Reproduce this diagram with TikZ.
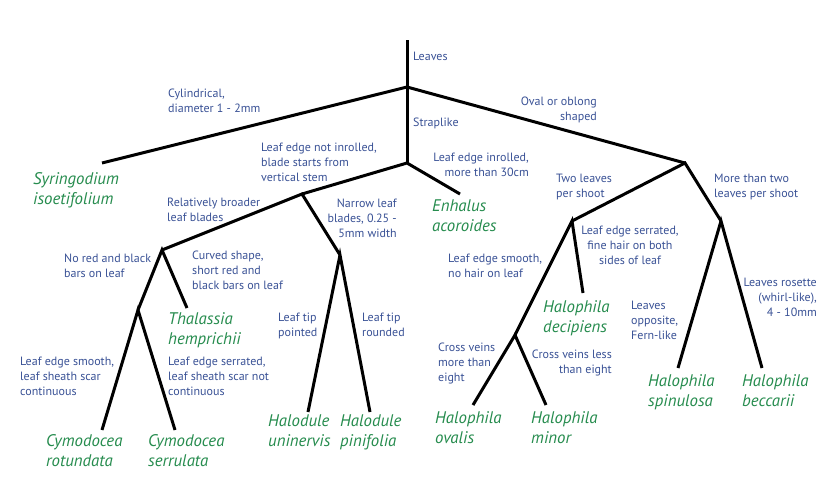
\documentclass[tikz,border=0pt]{standalone}
\usepackage{fontspec}
\setmainfont{PT Sans}
\definecolor{condblue}{RGB}{58,82,150}
\definecolor{taxgreen}{RGB}{38,140,78}
\begin{document}
\begin{tikzpicture}[x=1pt,y=-1pt,
		branch/.style={line width=3pt},
		cond/.style={text=condblue,font=\fontsize{12}{15}\selectfont,inner sep=0pt,align=left,anchor=north west},
		taxon/.style={text=taxgreen,font=\fontsize{16.8}{20}\selectfont\itshape,inner sep=0pt,align=left,anchor=north west}]
		\useasboundingbox (0,0) rectangle (840,496);
		\fill[white] (0,0) rectangle (840,496);
		
		% forks of the key
		\coordinate (top) at (407,40);
		\coordinate (leaves) at (407,87);
		\coordinate (strap) at (407,163);
		\coordinate (oval) at (685,163);
		\coordinate (notinr) at (302,194);
		\coordinate (broad) at (162,250);
		\coordinate (narrow) at (340,255);
		\coordinate (nored) at (138,310);
		\coordinate (two) at (572,221);
		\coordinate (more) at (721,221);
		\coordinate (smooth) at (515,335);
		
		% ends of the key
		\coordinate (syr) at (102,163);
		\coordinate (enh) at (460,194);
		\coordinate (tha) at (187,308);
		\coordinate (rot) at (102,430);
		\coordinate (ser) at (175,430);
		\coordinate (uni) at (308,412);
		\coordinate (pin) at (370,412);
		\coordinate (dec) at (583,293);
		\coordinate (ova) at (473,405);
		\coordinate (min) at (546,405);
		\coordinate (spi) at (678,368);
		\coordinate (bec) at (762,368);
		
		\draw[branch] (top) -- (leaves) -- (strap);
		\draw[branch] (syr) -- (leaves) -- (oval);
		\draw[branch] (enh) -- (strap) -- (notinr);
		\draw[branch] (broad) -- (notinr) -- (narrow);
		\draw[branch] (tha) -- (broad) -- (nored);
		\draw[branch] (rot) -- (nored) -- (ser);
		\draw[branch] (uni) -- (narrow) -- (pin);
		\draw[branch] (two) -- (oval) -- (more);
		\draw[branch] (dec) -- (two) -- (smooth);
		\draw[branch] (ova) -- (smooth) -- (min);
		\draw[branch] (spi) -- (more) -- (bec);
		
		% conditions
		\node[cond] (leavesl) at (413,52) {Leaves};
		\node[cond] (strapl) at (413,118) {Straplike};
		\node[cond] (cyll) at (168,89) {Cylindrical,\\diameter 1 - 2mm};
		\node[cond,anchor=north east,align=right] (ovall) at (597,97) {Oval or oblong\\shaped};
		\node[cond] (notinrl) at (261,143) {Leaf edge not inrolled,\\blade starts from\\vertical stem};
		\node[cond,anchor=north east,align=right] (inrl) at (529,153) {Leaf edge inrolled,\\more than 30cm};
		\node[cond] (broadl) at (167,198) {Relatively broader\\leaf blades};
		\node[cond,anchor=north east,align=right] (narrowl) at (397,199) {Narrow leaf\\blades, 0.25 -\\5mm width};
		\node[cond] (twol) at (556,174) {Two leaves\\per shoot};
		\node[cond] (morel) at (714,174) {More than two\\leaves per shoot};
		\node[cond,anchor=north,align=center] (serrl) at (630,226) {Leaf edge serrated,\\fine hair on both\\sides of leaf};
		\node[cond] (noredl) at (64,254) {No red and black\\bars on leaf};
		\node[cond] (curvedl) at (192,251) {Curved shape,\\short red and\\black bars on leaf};
		\node[cond] (pointedl) at (278,313) {Leaf tip\\pointed};
		\node[cond] (roundedl) at (362,313) {Leaf tip\\rounded};
		\node[cond] (smoothsl) at (20,357) {Leaf edge smooth,\\leaf sheath scar\\continuous};
		\node[cond] (serrsl) at (168,357) {Leaf edge serrated,\\leaf sheath scar not\\continuous};
		\node[cond] (nohairl) at (448,254) {Leaf edge smooth,\\no hair on leaf};
		\node[cond,anchor=north east,align=right] (rosettel) at (817,278) {Leaves rosette\\(whirl-like),\\4 - 10mm};
		\node[cond] (oppl) at (631,301) {Leaves\\opposite,\\Fern-like};
		\node[cond] (moreveinl) at (438,343) {Cross veins\\more than\\eight};
		\node[cond,anchor=north east,align=right] (lessveinl) at (612,350) {Cross veins less\\than eight};
		
		% species
		\node[taxon] (syrl) at (33,172) {Syringodium\\isoetifolium};
		\node[taxon] (enhl) at (432,200) {Enhalus\\acoroides};
		\node[taxon] (thal) at (168,312) {Thalassia\\hemprichii};
		\node[taxon] (rotl) at (46,434) {Cymodocea\\rotundata};
		\node[taxon] (serl) at (148,434) {Cymodocea\\serrulata};
		\node[taxon] (unil) at (268,415) {Halodule\\uninervis};
		\node[taxon] (pinl) at (340,415) {Halodule\\pinifolia};
		\node[taxon] (decl) at (543,300) {Halophila\\decipiens};
		\node[taxon] (spil) at (648,374) {Halophila\\spinulosa};
		\node[taxon] (becl) at (742,374) {Halophila\\beccarii};
		\node[taxon] (ovalisl) at (435,411) {Halophila\\ovalis};
		\node[taxon] (minl) at (531,411) {Halophila\\minor};
\end{tikzpicture}
\end{document}
